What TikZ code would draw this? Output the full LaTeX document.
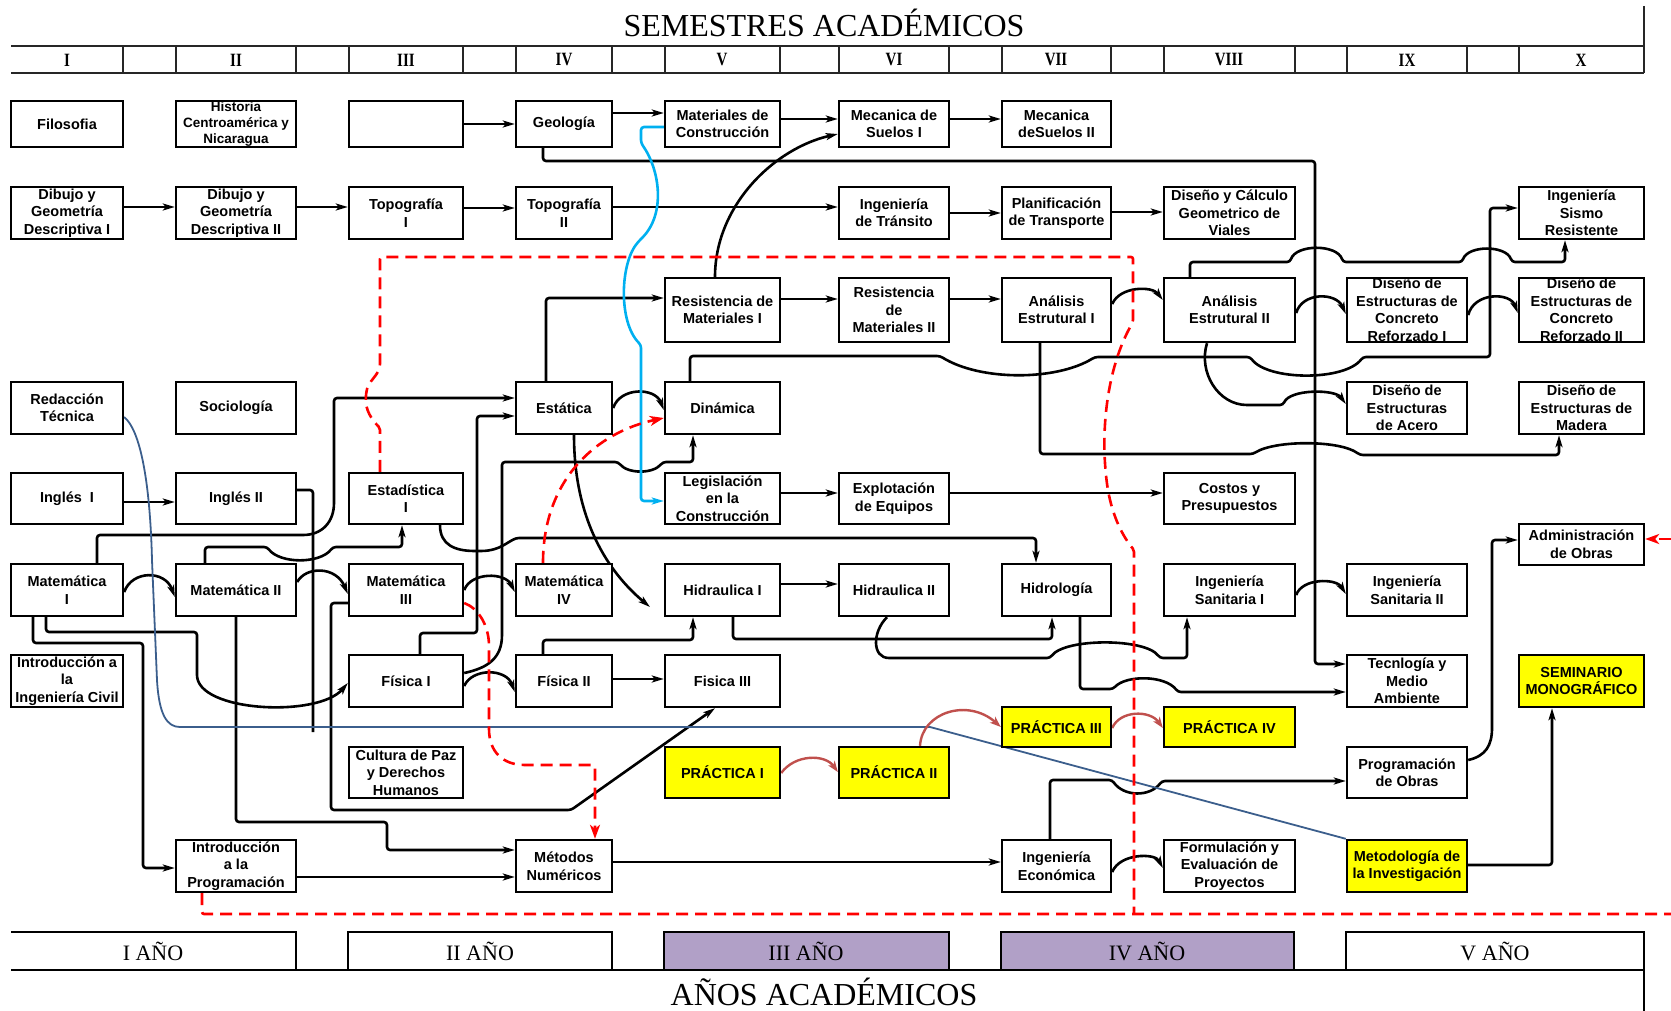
\documentclass[tikz,border=0pt]{standalone}
\usepackage{fontspec}
\setmainfont{Liberation Serif}
\newfontfamily\coursefont{Liberation Sans}
\usetikzlibrary{arrows.meta,backgrounds}

\definecolor{cyanln}{RGB}{0,176,240}
\definecolor{navyln}{RGB}{59,94,140}
\definecolor{pracln}{RGB}{192,80,77}
\definecolor{lav}{RGB}{177,160,199}
\definecolor{ylw}{RGB}{255,255,0}
\definecolor{dashred}{RGB}{255,0,0}

\tikzset{
  box/.style={draw, line width=2.4pt, fill=white, inner sep=0pt, align=center,
    font=\coursefont\bfseries\fontsize{14.5}{17.5}\selectfont},
  small/.style={font=\coursefont\bfseries\fontsize{13.5}{16}\selectfont},
  conn/.style={line width=2.6pt, rounded corners=3pt},
  arr/.style={conn, -{Stealth[length=12pt,width=7pt,inset=3pt]}},
  cyanarr/.style={cyanln, line width=2.6pt, rounded corners=3pt, -{Stealth[length=12pt,width=7pt,inset=3pt]}},
  navyline/.style={navyln, line width=1.8pt},
  reddash/.style={dashred, line width=2.6pt, dash pattern=on 12pt off 7pt, rounded corners=2pt},
  redtip/.style={-{Stealth[length=14pt,width=10pt,inset=4pt]}},
  pracarr/.style={pracln, line width=2.4pt, -{Stealth[length=11pt,width=8pt,inset=3pt]}},
  hdr/.style={line width=1.4pt, draw=black!85},
  yrline/.style={line width=2pt},
  numeral/.style={font=\bfseries\fontsize{15}{15}\selectfont},
  yrlabel/.style={font=\fontsize{22}{22}\selectfont, anchor=base},
}

% course box: [style]{x1}{y1}{x2}{y2}{name}{text}
\newcommand\crs[7][]{%
  \node[box,#1,minimum width={(#4-#2)*1pt},minimum height={(#5-#3)*1pt}]
    (#6) at ({(#2+#4)/2},{(#3+#5)/2}) {#7};}
\newcommand\rnum[1]{\scalebox{1}[1.25]{#1}}

\begin{document}
\begin{tikzpicture}[x=1pt,y=-1pt]
\useasboundingbox (0,0) rectangle (1671,1011);

% ---------- titles ----------
\node[anchor=base, font=\fontsize{32}{32}\selectfont] (title) at (824,37) {SEMESTRES ACADÉMICOS};
\node[anchor=base, font=\fontsize{32}{32}\selectfont] (subtitle) at (824,1005) {AÑOS ACADÉMICOS};

% ---------- semester header ----------
\draw[hdr] (11,46) -- (1644,46);
\draw[hdr] (11,73) -- (1644,73);
\draw[hdr] (1644,6) -- (1644,73);
\foreach \xx in {123,176,296,349,463,516,612,665,780,839,949,1002,1111,1164,1295,1347,1467,1519}
  \draw[hdr] (\xx,46) -- (\xx,73);
\node[numeral] (s1) at (67,60) {\rnum{I}};
\node[numeral] (s2) at (236,60) {\rnum{II}};
\node[numeral] (s3) at (406,60) {\rnum{III}};
\node[numeral] (s4) at (564,60) {\rnum{IV}};
\node[numeral] (s5) at (722,60) {\rnum{V}};
\node[numeral] (s6) at (894,60) {\rnum{VI}};
\node[numeral] (s7) at (1056,60) {\rnum{VII}};
\node[numeral] (s8) at (1229,60) {\rnum{VIII}};
\node[numeral] (s9) at (1407,60) {\rnum{IX}};
\node[numeral] (s10) at (1581,60) {\rnum{X}};

% ---------- year row ----------
\draw[yrline] (11,932) -- (296,932) -- (296,970);
\draw[yrline] (348,970) -- (348,932) -- (612,932) -- (612,970);
\draw[yrline, fill=lav] (664,970) -- (664,932) -- (949,932) -- (949,970) -- cycle;
\draw[yrline, fill=lav] (1001,970) -- (1001,932) -- (1294,932) -- (1294,970) -- cycle;
\draw[yrline] (1346,970) -- (1346,932) -- (1644,932) -- (1644,970);
\draw[yrline] (11,970) -- (1644,970) -- (1644,1011);
\node[yrlabel] (y1) at (153,960) {I AÑO};
\node[yrlabel] (y2) at (480,960) {II AÑO};
\node[yrlabel] (y3) at (806,960) {III AÑO};
\node[yrlabel] (y4) at (1147,960) {IV AÑO};
\node[yrlabel] (y5) at (1495,960) {V AÑO};

% ---------- courses ----------
\crs{11}{101}{123}{147}{filo}{Filosofia}
\crs[small]{176}{101}{296}{147}{hist}{Historia\\Centroamérica y\\Nicaragua}
\crs{349}{101}{463}{147}{blank}{}
\crs{516}{101}{612}{147}{geo}{Geología}
\crs{665}{101}{780}{147}{matc}{Materiales de\\Construcción}
\crs{839}{101}{949}{147}{ms1}{Mecanica de\\Suelos I}
\crs{1002}{101}{1111}{147}{ms2}{Mecanica\\deSuelos II}

\crs{11}{187}{123}{239}{dib1}{Dibujo y\\Geometría\\Descriptiva I}
\crs{176}{187}{296}{239}{dib2}{Dibujo y\\Geometría\\Descriptiva II}
\crs{349}{187}{463}{239}{top1}{Topografía\\I}
\crs{516}{187}{612}{239}{top2}{Topografía\\II}
\crs{839}{187}{949}{239}{tran}{Ingeniería\\de Tránsito}
\crs{1002}{187}{1111}{239}{plan}{Planificación\\de Transporte}
\crs{1164}{187}{1295}{239}{dcgv}{Diseño y Cálculo\\Geometrico de\\Viales}
\crs{1519}{187}{1644}{239}{sism}{Ingeniería\\Sismo\\Resistente}

\crs{665}{278}{780}{342}{rm1}{Resistencia de\\Materiales I}
\crs{839}{278}{949}{342}{rm2}{Resistencia\\de\\Materiales II}
\crs{1002}{278}{1111}{342}{ae1}{Análisis\\Estrutural I}
\crs{1164}{278}{1295}{342}{ae2}{Análisis\\Estrutural II}
\crs{1347}{278}{1467}{342}{dc1}{Diseño de\\Estructuras de\\Concreto\\Reforzado I}
\crs{1519}{278}{1644}{342}{dc2}{Diseño de\\Estructuras de\\Concreto\\Reforzado II}

\crs{11}{382}{123}{434}{redt}{Redacción\\Técnica}
\crs{176}{382}{296}{434}{soc}{Sociología}
\crs{516}{382}{612}{434}{est}{Estática}
\crs{665}{382}{780}{434}{din}{Dinámica}
\crs{1347}{382}{1467}{434}{dea}{Diseño de\\Estructuras\\de Acero}
\crs{1519}{382}{1644}{434}{dem}{Diseño de\\Estructuras de\\Madera}

\crs{11}{473}{123}{524}{ing1}{Inglés~~I}
\crs{176}{473}{296}{524}{ing2}{Inglés II}
\crs{349}{473}{463}{524}{esta}{Estadística\\I}
\crs{665}{473}{780}{524}{leg}{Legislación\\en la\\Construcción}
\crs{839}{473}{949}{524}{expl}{Explotación\\de Equipos}
\crs{1164}{473}{1295}{524}{cost}{Costos y\\Presupuestos}
\crs{1519}{524}{1644}{565}{adm}{Administración\\de Obras}

\crs{11}{564}{123}{616}{m1}{Matemática\\I}
\crs{176}{564}{296}{616}{m2}{Matemática II}
\crs{349}{564}{463}{616}{m3}{Matemática\\III}
\crs{516}{564}{612}{616}{m4}{Matemática\\IV}
\crs{665}{564}{780}{616}{h1}{Hidraulica I}
\crs{839}{564}{949}{616}{h2}{Hidraulica II}
\crs{1002}{564}{1111}{616}{hidro}{Hidrología}
\crs{1164}{564}{1295}{616}{is1}{Ingeniería\\Sanitaria I}
\crs{1347}{564}{1467}{616}{is2}{Ingeniería\\Sanitaria II}

\crs{11}{655}{123}{707}{iic}{Introducción a\\la\\Ingeniería Civil}
\crs{349}{655}{463}{707}{f1}{Física I}
\crs{516}{655}{612}{707}{f2}{Física II}
\crs{665}{655}{780}{707}{f3}{Fisica III}
\crs{1347}{655}{1467}{707}{tma}{Tecnlogía y\\Medio\\Ambiente}
\crs[fill=ylw]{1519}{655}{1644}{707}{sem}{SEMINARIO\\MONOGRÁFICO}

\crs[fill=ylw]{1002}{707}{1111}{747}{p3}{PRÁCTICA III}
\crs[fill=ylw]{1164}{707}{1295}{747}{p4}{PRÁCTICA IV}
\crs{349}{747}{463}{798}{cult}{Cultura de Paz\\y Derechos\\Humanos}
\crs[fill=ylw]{665}{747}{780}{798}{p1}{PRÁCTICA I}
\crs[fill=ylw]{839}{747}{949}{798}{p2}{PRÁCTICA II}
\crs{1347}{747}{1467}{798}{prog}{Programación\\de Obras}

\crs{176}{840}{296}{892}{ipro}{Introducción\\a la\\Programación}
\crs{516}{840}{612}{892}{mn}{Métodos\\Numéricos}
\crs{1002}{840}{1111}{892}{ie}{Ingeniería\\Económica}
\crs{1164}{840}{1295}{892}{fep}{Formulación y\\Evaluación de\\Proyectos}
\crs[fill=ylw]{1347}{840}{1467}{892}{mi}{Metodología de\\la Investigación}

% ---------- connectors (behind the boxes) ----------
\begin{scope}[on background layer]
% first row
\draw[arr] (blank.east |- 0,124) -- (geo.west |- 0,124);
\draw[arr] (geo.east |- 0,113) -- (matc.west |- 0,113);
\draw[arr] (matc.east |- 0,119) -- (ms1.west |- 0,119);
\draw[arr] (ms1.east |- 0,119) -- (ms2.west |- 0,119);
\draw[arr] (543,0 |- geo.south) -- (543,161) -- (1315,161) -- (1315,664) -- (tma.west |- 0,664);
\draw[arr] (715,0 |- rm1.north) .. controls (715,205) and (775,148) .. (ms1.west |- 0,134);

% second row
\draw[arr] (dib1.east |- 0,207) -- (dib2.west |- 0,207);
\draw[arr] (dib2.east |- 0,207) -- (top1.west |- 0,207);
\draw[arr] (top1.east |- 0,208) -- (top2.west |- 0,208);
\draw[arr] (top2.east |- 0,207) -- (tran.west |- 0,207);
\draw[arr] (tran.east |- 0,213) -- (plan.west |- 0,213);
\draw[arr] (plan.east |- 0,212) -- (dcgv.west |- 0,212);

% structures block
\draw[arr] (546,0 |- est.north) -- (546,298) -- (rm1.west |- 0,298);
\draw[arr] (rm1.east |- 0,299) -- (rm2.west |- 0,299);
\draw[arr] (rm2.east |- 0,299) -- (ae1.west |- 0,299);
\draw[arr] (ae1.east |- 0,304) .. controls (1120,286) and (1152,286) .. (ae2.west |- 0,300);
\draw[arr] (1190,0 |- ae2.north) -- (1190,262) -- (1290,262)
  .. controls (1296,244) and (1337,244) .. (1343,262) -- (1462,262)
  .. controls (1468,245) and (1506,245) .. (1512,262) -- (1565,262) -- (1565,0 |- sism.south);
\draw[arr] (ae2.east |- 0,313) .. controls (1302,292) and (1336,292) .. (dc1.west |- 0,314);
\draw[arr] (dc1.east |- 0,315) .. controls (1474,292) and (1510,292) .. (dc2.west |- 0,313);
\draw[arr] (690,0 |- din.north) -- (690,356) -- (940,356)
  .. controls (980,381) and (1056,381) .. (1095,357) -- (1250,357)
  .. controls (1268,381) and (1345,381) .. (1363,357) -- (1490,357) -- (1490,208) -- (sism.west |- 0,208);
\draw[arr] (1040,0 |- ae1.south) -- (1040,454) -- (1253,454)
  .. controls (1275,440) and (1340,440) .. (1360,455) -- (1559,455) -- (1559,0 |- dem.south);
\draw[arr] (1207,0 |- ae2.south) .. controls (1198,372) and (1218,405) .. (1250,405) -- (1283,405)
  .. controls (1290,389) and (1335,389) .. (dea.west |- 0,404);

% languages and mathematics
\draw[arr] (ing1.east |- 0,502) -- (ing2.west |- 0,502);
\draw[conn] (ing2.east |- 0,490) -- (313,490) -- (313,732);
\draw[arr] (m1.east |- 0,592) .. controls (132,570) and (165,570) .. (m2.west |- 0,597);
\draw[arr] (m2.east |- 0,582) .. controls (306,566) and (336,566) .. (m3.west |- 0,594);
\draw[arr] (m3.east |- 0,590) .. controls (471,572) and (505,572) .. (m4.west |- 0,592);
\draw[arr] (97,0 |- m1.north) -- (97,535) -- (300,535) .. controls (322,535) and (334,522) .. (334,500)
  -- (334,398) -- (est.west |- 0,398);
\draw[arr] (205,0 |- m2.north) -- (205,547) -- (267,547) .. controls (280,564) and (320,564) .. (333,547)
  -- (402,547) -- (402,0 |- esta.south);
\draw[arr] (33,0 |- m1.south) -- (33,643) -- (143,643) -- (143,868) -- (ipro.west |- 0,868);
\draw[arr] (46,0 |- m1.south) -- (46,632) -- (197,632) -- (197,672)
  .. controls (197,712) and (318,718) .. (f1.west |- 0,683);
\draw[arr] (236,0 |- m2.south) -- (236,822) -- (387,822) -- (387,850) -- (mn.west |- 0,850);
\draw[arr] (ipro.east |- 0,877) -- (mn.west |- 0,877);
\draw[arr] (m3.west |- 0,603) -- (331,603) -- (331,810) -- (571,810) -- (715,0 |- f3.south);

% physics, statics, hydraulics
\draw[arr] (f1.east |- 0,686) .. controls (472,668) and (506,668) .. (f2.west |- 0,692);
\draw[arr] (f1.east |- 0,673) .. controls (488,668) and (502,658) .. (502,632) -- (502,462) -- (618,462)
  .. controls (628,474) and (653,474) .. (663,462) -- (693,462) -- (693,0 |- din.south);
\draw[arr] (420,0 |- f1.north) -- (420,633) -- (477,633) -- (477,416) -- (est.west |- 0,416);
\draw[arr] (440,0 |- esta.south) .. controls (440,545) and (455,551) .. (478,551)
  .. controls (503,551) and (510,538) .. (522,538) -- (1036,538) -- (1036,0 |- hidro.north);
\draw[arr] (574,0 |- est.south) .. controls (574,520) and (608,572) .. (650,607);
\draw[arr] (est.east |- 0,408) .. controls (620,387) and (655,387) .. (din.west |- 0,410);
\draw[arr] (543,0 |- f2.north) -- (543,640) -- (693,640) -- (693,0 |- h1.south);
\draw[arr] (733,0 |- h1.south) -- (733,639) -- (1052,639) -- (1052,0 |- hidro.south);
\draw[arr] (f2.east |- 0,679) -- (f3.west |- 0,679);
\draw[arr] (h1.east |- 0,584) -- (h2.west |- 0,584);
\draw[arr] (887,0 |- h2.south) .. controls (872,632) and (872,658) .. (892,658) -- (1050,658)
  .. controls (1065,638) and (1145,638) .. (1160,658) -- (1187,658) -- (1187,0 |- is1.south);
\draw[arr] (1080,0 |- hidro.south) -- (1080,689) -- (1113,689)
  .. controls (1126,675) and (1165,675) .. (1178,692) -- (tma.west |- 0,692);
\draw[arr] (is1.east |- 0,595) .. controls (1302,578) and (1336,578) .. (is2.west |- 0,594);
\draw[arr] (leg.east |- 0,493) -- (expl.west |- 0,493);
\draw[arr] (expl.east |- 0,493) -- (cost.west |- 0,493);

% lower right
\draw[arr] (1050,0 |- ie.north) -- (1050,780) -- (1112,780)
  .. controls (1124,797) and (1150,797) .. (1162,781) -- (prog.west |- 0,781);
\draw[arr] (ie.east |- 0,872) .. controls (1120,853) and (1155,853) .. (fep.west |- 0,868);
\draw[arr] (mn.east |- 0,862) -- (ie.west |- 0,862);
\draw[arr] (mi.east |- 0,865) -- (1552,865) -- (1552,0 |- sem.south);
\draw[arr] (prog.east |- 0,760) .. controls (1486,756) and (1492,745) .. (1492,725) -- (1492,540) -- (adm.west |- 0,540);

% light blue link
\draw[cyanarr] (matc.west |- 0,127) -- (641,127) -- (641,143)
  .. controls (660,170) and (666,214) .. (640,240)
  .. controls (620,262) and (618,322) .. (641,345) -- (641,501) -- (leg.west |- 0,501);

% dark blue link
\draw[navyline] (redt.east |- 0,417) .. controls (140,430) and (150,480) .. (152,560) -- (157,680)
  .. controls (159,715) and (167,727) .. (180,727) -- (930,727) -- (mi.north west);

% red dashed links
\draw[reddash] (202,0 |- ipro.south) -- (202,914) -- (1671,914);
\draw[reddash] (380,0 |- esta.north) -- (380,428) .. controls (372,420) and (365,410) .. (366,396)
  .. controls (367,380) and (380,376) .. (380,362) -- (380,257) -- (1133,257) -- (1133,322)
  .. controls (1108,365) and (1101,425) .. (1106,475)
  .. controls (1110,515) and (1124,538) .. (1134,550) -- (1134,914);
\draw[reddash, redtip] (m3.east |- 0,603) .. controls (478,608) and (489,625) .. (489,648) -- (489,727)
  .. controls (489,752) and (503,765) .. (527,765) -- (595,765) -- (595,0 |- mn.north);
\draw[reddash, redtip] (543,0 |- m4.north) .. controls (543,478) and (598,432) .. (din.west |- 0,418);
\draw[reddash, redtip] (1671,539) -- (adm.east |- 0,539);

% practice sequence
\draw[pracarr] (p1.east |- 0,773) .. controls (795,754) and (825,754) .. (p2.west |- 0,772);
\draw[pracarr] (920,0 |- p2.north) .. controls (922,712) and (968,698) .. (p3.west |- 0,727);
\draw[pracarr] (p3.east |- 0,728) .. controls (1120,710) and (1150,710) .. (p4.west |- 0,728);
\end{scope}
\end{tikzpicture}
\end{document}
